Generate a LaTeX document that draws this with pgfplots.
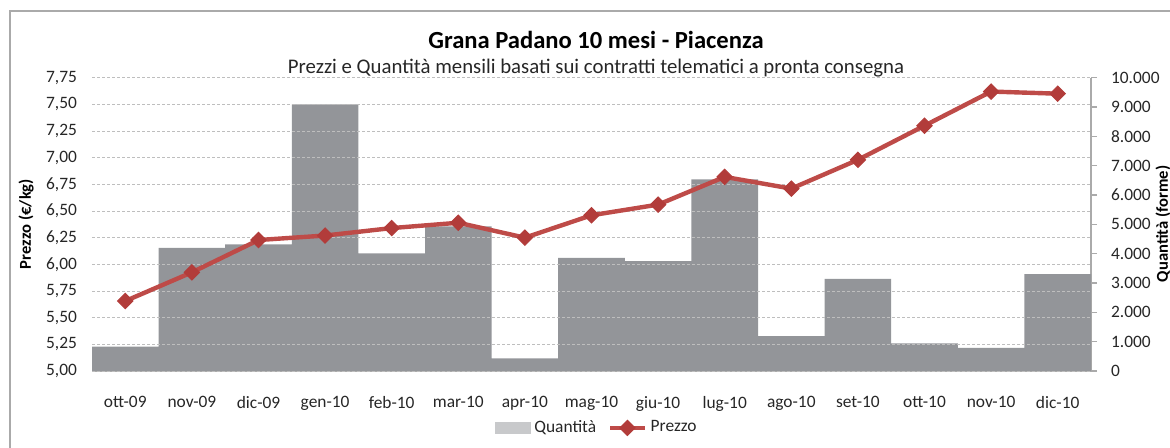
\documentclass[border=0pt]{standalone}
\usepackage{fontspec}
\setmainfont{Carlito}
\usepackage{pgfplots}
\pgfplotsset{compat=1.18}
\definecolor{barGray}{RGB}{147,149,153}
\definecolor{legGray}{RGB}{200,201,203}
\definecolor{lineRed}{RGB}{190,75,72}
\definecolor{markRed}{RGB}{178,60,58}
\definecolor{axGray}{RGB}{170,170,170}
\definecolor{gridGray}{RGB}{190,190,190}
\begin{document}
\begin{tikzpicture}
\useasboundingbox (0,0) rectangle (585pt,224pt);
\draw[axGray, line width=0.7pt] (5pt,-1pt) -- (5pt,218.5pt) -- (586pt,218.5pt);
\node[font=\fontsize{12.3}{14}\selectfont\bfseries] at (298pt,204pt) {Grana Padano 10 mesi - Piacenza};
\node[font=\fontsize{10.4}{12}\selectfont, text=black!85] at (298pt,190pt) {Prezzi e Quantità mensili basati sui contratti telematici a pronta consegna};
\node[rotate=90, font=\fontsize{8.3}{10}\selectfont\bfseries] at (13pt,112pt) {Prezzo (€/kg)};
\node[rotate=90, font=\fontsize{8.3}{10}\selectfont\bfseries] at (581.5pt,112pt) {Quantità (forme)};
% bars, right axis
\begin{axis}[
  at={(46pt,38.5pt)}, anchor=south west, scale only axis,
  width=499.5pt, height=146.65pt,
  xmin=-0.5, xmax=14.5, ymin=0, ymax=10000,
  axis y line*=right, axis x line*=bottom,
  axis line style={axGray, line width=0.7pt},
  xtick={0,...,14},
  xticklabels={ott-09,nov-09,dic-09,gen-10,feb-10,mar-10,apr-10,mag-10,giu-10,lug-10,ago-10,set-10,ott-10,nov-10,dic-10},
  x tick style={draw=none},
  ytick={0,1000,...,10000},
  scaled y ticks=false,
  y tick style={axGray, line width=0.6pt},
  tick align=outside, major tick length=3pt,
  tick label style={font=\fontsize{8.7}{10}\selectfont, text=black!85},
  xticklabel style={yshift=-6pt},
  yticklabel style={xshift=3.5pt},
  /pgf/number format/assume math mode=true,
  /pgf/number format/.cd, fixed, 1000 sep={.},
]
\addplot[ybar, bar width=1, fill=barGray, draw=none] coordinates {
(0,830) (1,4200) (2,4320) (3,9090) (4,4010) (5,4930) (6,430) (7,3860)
(8,3750) (9,6530) (10,1190) (11,3140) (12,940) (13,790) (14,3300)};
\end{axis}
% line, left axis
\begin{axis}[
  at={(46pt,38.5pt)}, anchor=south west, scale only axis,
  width=499.5pt, height=146.65pt,
  xmin=-0.5, xmax=14.5, ymin=5, ymax=7.75,
  axis line style={draw=none},
  xtick=\empty,
  minor xtick={-0.5,0.5,...,14.5},
  xminorgrids=true, ymajorgrids=true,
  minor x tick style={draw=none},
  ytick={5,5.25,...,7.75},
  y tick style={draw=none},
  grid style={gridGray, line width=0.4pt, dash pattern=on 1.5pt off 1pt},
  minor grid style={gridGray, line width=0.4pt, dash pattern=on 1.5pt off 1pt},
  tick label style={font=\fontsize{8.7}{10}\selectfont, text=black!85},
  yticklabel style={xshift=-4pt},
  ytick pos=left,
  /pgf/number format/assume math mode=true,
  yticklabel={\pgfmathprintnumber[fixed,fixed zerofill,precision=2,use comma]{\tick}},
  legend style={at={(0.5065,-0.194)}, anchor=center, draw=none, fill=none,
    font=\fontsize{8.7}{10}\selectfont, text=black!85, legend columns=2,
    /tikz/every even column/.append style={column sep=4pt}},
]
\addlegendimage{area legend, fill=legGray, draw=legGray}
\addlegendentry{Quantità}
\addplot[color=lineRed, line width=2.2pt, mark=square*, mark size=2.7pt,
  mark options={rotate=45, fill=markRed, draw=markRed, line width=0.5pt, solid}]
coordinates {
(0,5.656) (1,5.925) (2,6.228) (3,6.27) (4,6.34) (5,6.39) (6,6.25) (7,6.46)
(8,6.56) (9,6.82) (10,6.71) (11,6.98) (12,7.30) (13,7.62) (14,7.60)};
\addlegendentry{Prezzo}
\end{axis}
\end{tikzpicture}
\end{document}
